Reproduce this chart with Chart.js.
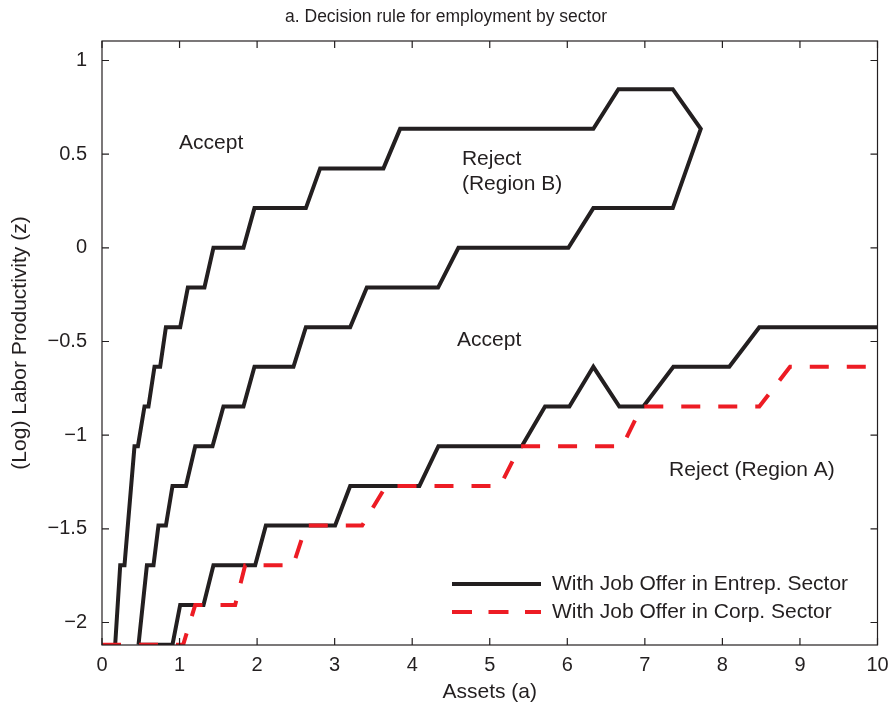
<!DOCTYPE html>
<html>
<head>
<meta charset="utf-8">
<script src="https://cdn.jsdelivr.net/npm/chart.js@4.4.0/dist/chart.umd.min.js"></script>
<style>
  html, body { margin: 0; padding: 0; background: #fff; }
</style>
</head>
<body>
<canvas id="chart" width="892" height="711"></canvas>
<script>
// entrepreneurial-offer boundary: upper edge of region B, then back along its lower edge
const loopA = [0.17, 0.235, 0.29, 0.419, 0.463, 0.548, 0.599, 0.677, 0.75, 0.824, 1.008, 1.107, 1.321, 1.437, 1.824,
  1.966, 2.629, 2.813, 3.629, 3.844, 6.336, 6.659, 7.36, 7.721, 7.36, 6.336, 6.014, 4.596, 4.334, 3.415, 3.2,
  2.629, 2.469, 1.966, 1.824, 1.566, 1.425, 1.202, 1.082, 0.909, 0.824, 0.728, 0.664, 0.579, 0.471];
const loopZ = [-2.118, -1.694, -1.694, -1.059, -1.059, -0.847, -0.847, -0.635, -0.635, -0.424, -0.424, -0.212, -0.212, 0, 0,
  0.212, 0.212, 0.424, 0.424, 0.635, 0.635, 0.847, 0.847, 0.635, 0.212, 0.212, 0, 0, -0.212, -0.212, -0.424,
  -0.424, -0.635, -0.635, -0.847, -0.847, -1.059, -1.059, -1.271, -1.271, -1.482, -1.482, -1.694, -1.694, -2.118];

// entrepreneurial-offer boundary of region A
const lowA = [0.471, 0.909, 1.008, 1.309, 1.437, 1.975, 2.113, 3.006, 3.2, 4.093, 4.338, 5.413, 5.713, 6.027,
  6.336, 6.671, 6.981, 7.368, 8.089, 8.476, 10];
const lowZ = [-2.118, -2.118, -1.906, -1.906, -1.694, -1.694, -1.482, -1.482, -1.271, -1.271, -1.059, -1.059, -0.847, -0.847,
  -0.635, -0.847, -0.847, -0.635, -0.635, -0.424, -0.424];

// corporate-offer boundary
const corpA = [0, 1.047, 1.202, 1.717, 1.846, 2.465, 2.633, 3.355, 3.663, 5.133, 5.392, 6.71, 6.96, 8.476, 8.872, 10];
const corpZ = [-2.118, -2.118, -1.906, -1.906, -1.694, -1.694, -1.482, -1.482, -1.271, -1.271, -1.059, -1.059, -0.847, -0.847, -0.635, -0.635];

const xTicks = [0, 1, 2, 3, 4, 5, 6, 7, 8, 9, 10];
const yTicks = [-2, -1.5, -1, -0.5, 0, 0.5, 1];

const regionText = ['Accept', 'Reject', '(Region B)', 'Accept', 'Reject (Region A)'];
const regionA = [1.408, 4.641, 4.641, 4.992, 7.312];
const regionZ = [0.56, 0.474, 0.341, -0.491, -1.185];
const regionAlign = ['center', 'left', 'left', 'center', 'left'];

const legendText = ['With Job Offer in Entrep. Sector', 'With Job Offer in Corp. Sector'];
const titleText = 'a. Decision rule for employment by sector';

const INK = '#231f20';
const RED = '#ed1c24';
const FONT = '"Liberation Sans", Arial, sans-serif';

function pts(xs, ys) {
  return xs.map((v, i) => ({ x: v, y: ys[i] }));
}

Chart.defaults.font.family = FONT;
Chart.defaults.color = INK;

// title, box, inward ticks, region labels and legend (MATLAB look)
const decorations = {
  id: 'decorations',
  afterDatasetsDraw(chart) {
    const { ctx, chartArea: a, scales: { x, y } } = chart;
    ctx.save();
    ctx.fillStyle = INK;
    ctx.textBaseline = 'middle';
    ctx.textAlign = 'center';
    ctx.font = '17.5px ' + FONT;
    ctx.fillText(titleText, chart.width / 2, 17);

    ctx.strokeStyle = INK;
    ctx.lineWidth = 1.2;
    ctx.beginPath();
    xTicks.forEach(v => {
      const px = x.getPixelForValue(v);
      ctx.moveTo(px, a.bottom); ctx.lineTo(px, a.bottom - 7);
      ctx.moveTo(px, a.top); ctx.lineTo(px, a.top + 7);
    });
    yTicks.forEach(v => {
      const py = y.getPixelForValue(v);
      ctx.moveTo(a.left, py); ctx.lineTo(a.left + 7, py);
      ctx.moveTo(a.right, py); ctx.lineTo(a.right - 7, py);
    });
    ctx.stroke();
    ctx.strokeRect(a.left, a.top, a.right - a.left, a.bottom - a.top);

    ctx.font = '21px ' + FONT;
    regionText.forEach((t, i) => {
      ctx.textAlign = regionAlign[i];
      ctx.fillText(t, x.getPixelForValue(regionA[i]), y.getPixelForValue(regionZ[i]));
    });

    // legend in the lower right of the plot
    const lx = a.left + 350, ly = a.bottom - 61;
    ctx.lineWidth = 4;
    ctx.strokeStyle = INK;
    ctx.beginPath(); ctx.moveTo(lx, ly); ctx.lineTo(lx + 89, ly); ctx.stroke();
    ctx.strokeStyle = RED;
    ctx.setLineDash([20, 16.5]);
    ctx.beginPath(); ctx.moveTo(lx, ly + 28); ctx.lineTo(lx + 89, ly + 28); ctx.stroke();
    ctx.setLineDash([]);
    ctx.textAlign = 'left';
    ctx.fillText(legendText[0], lx + 100, ly);
    ctx.fillText(legendText[1], lx + 100, ly + 28);
    ctx.restore();
  }
};

new Chart(document.getElementById('chart'), {
  type: 'scatter',
  data: {
    datasets: [
      { label: legendText[1], data: pts(corpA, corpZ), borderColor: RED, borderDash: [19, 18], order: 0 },
      { label: legendText[0], data: pts(loopA, loopZ), borderColor: INK, order: 1 },
      { label: legendText[0], data: pts(lowA, lowZ), borderColor: INK, order: 1 }
    ].map(d => Object.assign(d, { showLine: true, borderWidth: 4, pointRadius: 0, fill: false, clip: 0, tension: 0 }))
  },
  plugins: [decorations],
  options: {
    responsive: false,
    animation: false,
    events: [],
    layout: { padding: { left: 0, right: 14.5, top: 41, bottom: 0 } },
    plugins: {
      legend: { display: false },
      tooltip: { enabled: false },
      title: { display: false }
    },
    scales: {
      x: {
        type: 'linear',
        min: 0,
        max: 10,
        grid: { display: false, drawTicks: false },
        border: { display: false },
        ticks: { stepSize: 1, padding: 8, font: { size: 20 }, color: INK, maxRotation: 0 },
        title: { display: true, text: 'Assets (a)', font: { size: 21 }, color: INK, padding: { top: 0, bottom: 6 } },
        afterFit: s => { s.height = 66; s.paddingLeft = 0; s.paddingRight = 0; }
      },
      y: {
        type: 'linear',
        min: -2.12,
        max: 1.104,
        grid: { display: false, drawTicks: false },
        border: { display: false },
        afterBuildTicks: s => { s.ticks = yTicks.map(v => ({ value: v })); },
        ticks: {
          padding: 15,
          font: { size: 20 },
          color: INK,
          callback: v => String(v).replace('-', '\u2212')
        },
        title: { display: true, text: '(Log) Labor Productivity (z)', font: { size: 21 }, color: INK, padding: { top: 8, bottom: 0 } },
        afterFit: s => { s.width = 102; s.paddingTop = 0; s.paddingBottom = 0; }
      }
    }
  }
});
</script>
</body>
</html>
